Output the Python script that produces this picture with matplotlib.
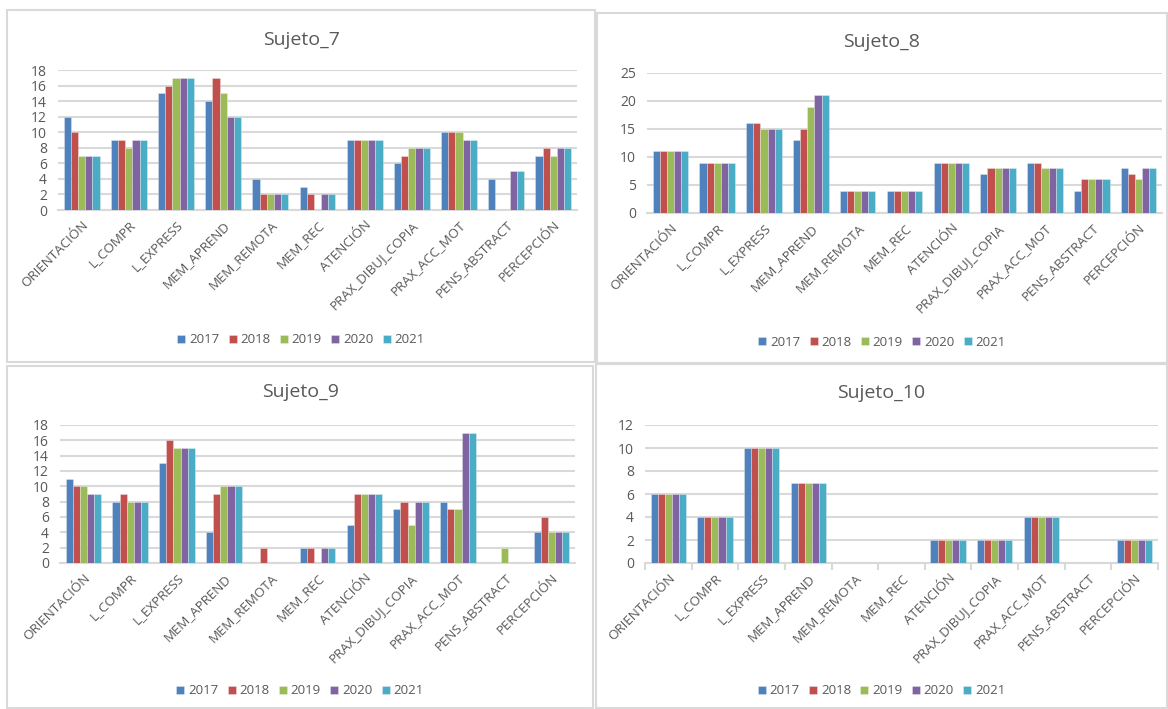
import numpy as np
import matplotlib
matplotlib.use("Agg")
import matplotlib.pyplot as plt
from matplotlib.patches import Rectangle

plt.rcParams['font.family'] = ['Open Sans', 'DejaVu Sans']

categories = ["ORIENTACIÓN", "L_COMPR", "L_EXPRESS", "MEM_APREND", "MEM_REMOTA",
              "MEM_REC", "ATENCIÓN", "PRAX_DIBUJ_COPIA", "PRAX_ACC_MOT",
              "PENS_ABSTRACT", "PERCEPCIÓN"]
years = ["2017", "2018", "2019", "2020", "2021"]

# Scores per subject: one row per category, one column per year
sujeto_7 = [
    [12, 10, 7, 7, 7],
    [9, 9, 8, 9, 9],
    [15, 16, 17, 17, 17],
    [14, 17, 15, 12, 12],
    [4, 2, 2, 2, 2],
    [3, 2, 0, 2, 2],
    [9, 9, 9, 9, 9],
    [6, 7, 8, 8, 8],
    [10, 10, 10, 9, 9],
    [4, 0, 0, 5, 5],
    [7, 8, 7, 8, 8],
]
sujeto_8 = [
    [11, 11, 11, 11, 11],
    [9, 9, 9, 9, 9],
    [16, 16, 15, 15, 15],
    [13, 15, 19, 21, 21],
    [4, 4, 4, 4, 4],
    [4, 4, 4, 4, 4],
    [9, 9, 9, 9, 9],
    [7, 8, 8, 8, 8],
    [9, 9, 8, 8, 8],
    [4, 6, 6, 6, 6],
    [8, 7, 6, 8, 8],
]
sujeto_9 = [
    [11, 10, 10, 9, 9],
    [8, 9, 8, 8, 8],
    [13, 16, 15, 15, 15],
    [4, 9, 10, 10, 10],
    [0, 2, 0, 0, 0],
    [2, 2, 0, 2, 2],
    [5, 9, 9, 9, 9],
    [7, 8, 5, 8, 8],
    [8, 7, 7, 17, 17],
    [0, 0, 2, 0, 0],
    [4, 6, 4, 4, 4],
]
sujeto_10 = [
    [6, 6, 6, 6, 6],
    [4, 4, 4, 4, 4],
    [10, 10, 10, 10, 10],
    [7, 7, 7, 7, 7],
    [0, 0, 0, 0, 0],
    [0, 0, 0, 0, 0],
    [2, 2, 2, 2, 2],
    [2, 2, 2, 2, 2],
    [4, 4, 4, 4, 4],
    [0, 0, 0, 0, 0],
    [2, 2, 2, 2, 2],
]

colors = ["#4F81BD", "#C0504D", "#9BBB59", "#8064A2", "#4BACC6"]
TEXT = "#595959"
GRID = "#D9D9D9"

W, H = 1168, 709
fig = plt.figure(figsize=(W / 100, H / 100), dpi=100)
fig.patch.set_facecolor("white")


def fig_rect(x0, y0, x1, y1):
    return [x0 / W, 1 - y1 / H, (x1 - x0) / W, (y1 - y0) / H]


# panel frame, plot area, title y, legend y, y-limit, y-step, x ticks
panels = [
    dict(name="Sujeto_7", data=sujeto_7, frame=(7, 10, 595, 362),
         plot=(58, 70, 577, 210), title_y=40, legend_y=340, ymax=18, step=2, xticks=False),
    dict(name="Sujeto_8", data=sujeto_8, frame=(597, 13, 1167, 363),
         plot=(647, 73, 1162, 213), title_y=42, legend_y=342, ymax=25, step=5, xticks=False),
    dict(name="Sujeto_9", data=sujeto_9, frame=(7, 366, 593, 708),
         plot=(60, 425, 575, 563), title_y=392, legend_y=691, ymax=18, step=2, xticks=False),
    dict(name="Sujeto_10", data=sujeto_10, frame=(596, 364, 1167, 708),
         plot=(645, 425, 1158, 563), title_y=393, legend_y=691, ymax=12, step=2, xticks=True),
]

n_cat = len(categories)
n_ser = len(years)
group_w = 0.76
bar_w = group_w / n_ser
x = np.arange(n_cat)

for p in panels:
    fx0, fy0, fx1, fy1 = p["frame"]
    fig.patches.append(Rectangle((fx0 / W, 1 - fy1 / H), (fx1 - fx0) / W, (fy1 - fy0) / H,
                                 transform=fig.transFigure, fill=False,
                                 edgecolor="#D9D9D9", linewidth=1.5, zorder=0))

    ax = fig.add_axes(fig_rect(*p["plot"]))
    vals = np.array(p["data"], dtype=float)
    handles = []
    for j in range(n_ser):
        h = ax.bar(x - group_w / 2 + bar_w * (j + 0.5), vals[:, j], width=bar_w,
                   color=colors[j], edgecolor=(1, 1, 1, 0.35), linewidth=0.6,
                   label=years[j], zorder=3)
        handles.append(h)

    ax.set_xlim(-0.5, n_cat - 0.5)
    ax.set_ylim(0, p["ymax"])
    ax.set_yticks(np.arange(0, p["ymax"] + 0.1, p["step"]))
    ax.yaxis.grid(True, color=GRID, linewidth=1.5, zorder=0)
    ax.set_axisbelow(True)
    for s in ["top", "right", "left"]:
        ax.spines[s].set_visible(False)
    ax.spines["bottom"].set_color(GRID)
    ax.spines["bottom"].set_linewidth(1.5)
    ax.tick_params(axis="y", length=0, labelsize=10, labelcolor=TEXT, pad=8)

    ax.set_xticks(x)
    ax.set_xticklabels(categories, rotation=45, ha="right", rotation_mode="anchor",
                       fontsize=9.6, color=TEXT)
    if p["xticks"]:
        ax.set_xticks(np.arange(-0.5, n_cat, 1.0), minor=True)
        ax.tick_params(axis="x", which="minor", length=5, color=GRID, width=1.5)
    ax.tick_params(axis="x", which="major", length=0, pad=6)

    cx = (fx0 + fx1) / 2 / W
    fig.text(cx, 1 - p["title_y"] / H, p["name"], ha="center", va="center",
             fontsize=14, color=TEXT)
    fig.legend(handles=handles, labels=years, loc="center",
               bbox_to_anchor=(cx, 1 - p["legend_y"] / H), ncol=5, frameon=False,
               fontsize=9.5, labelcolor=TEXT, handlelength=0.6, handleheight=0.6,
               handletextpad=0.3, columnspacing=0.7)

fig.savefig("out.png", dpi=100)
